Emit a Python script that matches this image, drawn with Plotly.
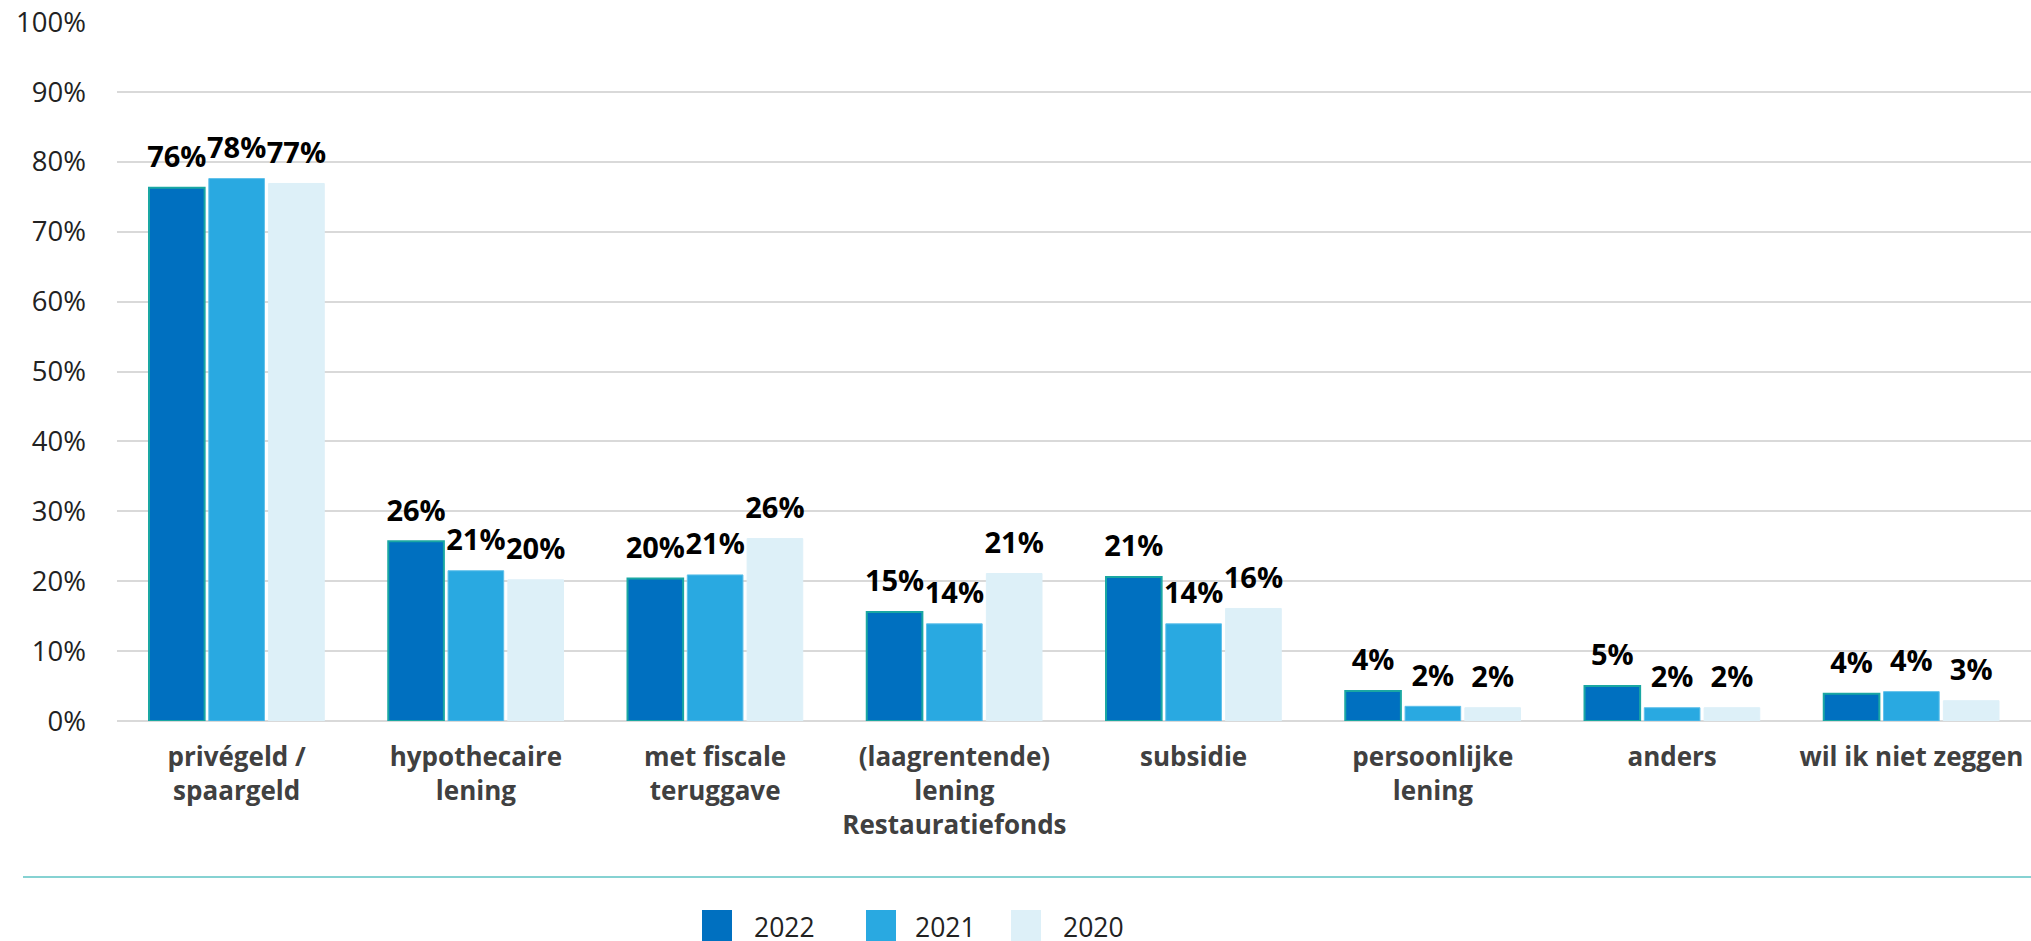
import plotly.graph_objects as go

categories = [
    "privégeld /<br>spaargeld",
    "hypothecaire<br>lening",
    "met fiscale<br>teruggave",
    "(laagrentende)<br>lening<br>Restauratiefonds",
    "subsidie",
    "persoonlijke<br>lening",
    "anders",
    "wil ik niet zeggen",
]
years = ["2022", "2021", "2020"]
values_2022 = [76.3, 25.7, 20.4, 15.6, 20.6, 4.3, 5.0, 3.9]
values_2021 = [77.6, 21.5, 20.9, 13.9, 13.9, 2.1, 1.9, 4.2]
values_2020 = [76.9, 20.2, 26.1, 21.1, 16.1, 1.9, 1.9, 2.9]
labels_2022 = ["76%", "26%", "20%", "15%", "21%", "4%", "5%", "4%"]
labels_2021 = ["78%", "21%", "21%", "14%", "14%", "2%", "2%", "4%"]
labels_2020 = ["77%", "20%", "26%", "21%", "16%", "2%", "2%", "3%"]
y_ticks = [0, 10, 20, 30, 40, 50, 60, 70, 80, 90, 100]
y_ticktext = ["0%", "10%", "20%", "30%", "40%", "50%", "60%", "70%", "80%", "90%", "100%"]

colors = ["#0070C0", "#29A9E1", "#DDF0F8"]
outlines = ["#1AA7A3", "#5FC0EA", "#DDF0F8"]

W, H = 2031, 941
ML, MR, MT, MB = 117, 0, 22, 220
PW, PH = W - ML - MR, H - MT - MB
GAP = 0.25

fig = go.Figure()
series = list(zip(years, [values_2022, values_2021, values_2020],
                  [labels_2022, labels_2021, labels_2020], colors, outlines))
for name, vals, labs, c, oc in series:
    fig.add_trace(go.Bar(
        name=name, x=categories, y=vals, offsetgroup=name,
        marker=dict(color=c, line=dict(color=oc, width=2 if name == "2022" else 1)),
        showlegend=False, hoverinfo="skip",
    ))
for name, vals, labs, c, oc in series:
    fig.add_trace(go.Scatter(
        name=name, x=categories, y=vals, text=labs, offsetgroup=name,
        mode="markers+text", textposition="top center", cliponaxis=False,
        marker=dict(size=20, opacity=0, color=c),
        textfont=dict(family="Open Sans", size=29, color="#000000", weight="bold"),
        showlegend=False, hoverinfo="skip",
    ))

def px_x(p):
    return (p - ML) / PW

def px_y(p):
    return (H - MB - p) / PH

shapes = [dict(type="line", xref="paper", yref="paper",
               x0=px_x(23), x1=1.0, y0=px_y(877), y1=px_y(877),
               line=dict(color="#86D2D2", width=2))]
annotations = []
leg_sq = [702, 866, 1011]
leg_tx = [752, 913, 1061]
for name, c, sx, tx in zip(years, colors, leg_sq, leg_tx):
    shapes.append(dict(type="rect", xref="paper", yref="paper",
                       x0=px_x(sx), x1=px_x(sx + 30), y0=px_y(910), y1=px_y(942),
                       fillcolor=c, line=dict(width=0)))
    annotations.append(dict(text=name, xref="paper", yref="paper",
                            x=px_x(tx), y=px_y(927), xanchor="left", yanchor="middle",
                            showarrow=False,
                            font=dict(family="Open Sans", size=26.5, color="#222222")))

fig.update_layout(
    width=W, height=H,
    margin=dict(l=ML, r=MR, t=MT, b=MB, pad=0),
    paper_bgcolor="white", plot_bgcolor="white",
    barmode="group", bargap=GAP, bargroupgap=0.07,
    scattermode="group", scattergap=GAP,
    font=dict(family="Open Sans", color="#222222"),
    shapes=shapes, annotations=annotations,
    xaxis=dict(
        tickfont=dict(family="Open Sans", size=26, color="#404040", weight="bold"),
        showgrid=False, showline=False, ticks="", ticklabelstandoff=18,
    ),
    yaxis=dict(
        range=[0, 100], tickmode="array", tickvals=y_ticks, ticktext=y_ticktext,
        tickfont=dict(family="Open Sans", size=27.5, color="#222222"),
        showgrid=True, gridcolor="#D9D9D9", gridwidth=2,
        zeroline=True, zerolinecolor="#D9D9D9", zerolinewidth=2,
        showline=False, ticks="", ticklabelstandoff=30,
    ),
)

fig.write_html("out.html", config={"displayModeBar": False},
               post_script="document.body.style.margin='0';document.body.style.overflow='hidden';")
